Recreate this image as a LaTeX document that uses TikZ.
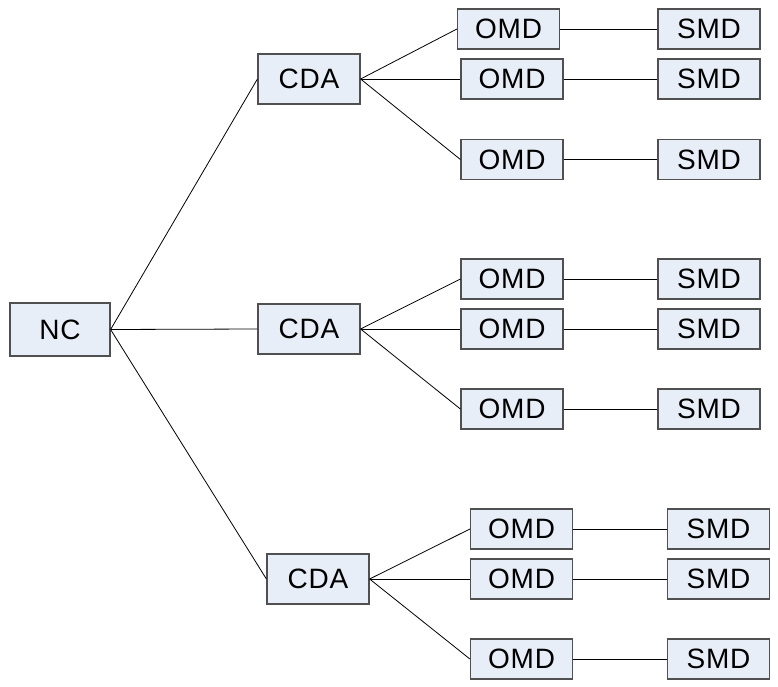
\documentclass[tikz,border=0pt]{standalone}
\usepackage{fontspec}
\setmainfont{Liberation Sans}[LetterSpace=3]
\definecolor{boxfill}{HTML}{E8EEF7}
\definecolor{boxline}{HTML}{505050}
\begin{document}
\begin{tikzpicture}[x=1pt,y=-1pt,
  blk/.style={draw=boxline,line width=1.2pt,fill=boxfill,minimum width=102pt,minimum height=40pt,inner sep=0pt,font=\fontsize{28}{30}\selectfont},
  big/.style={blk,minimum height=50pt},
  link/.style={line width=0.8pt,black}]
\useasboundingbox (0,0) rectangle (778,687);
\node[big,minimum width=100pt,minimum height=53pt] (nc) at (60,329.5) {NC};
\node[big] (c1) at (309,79) {CDA};
\node[big] (c2) at (309,329) {CDA};
\node[big] (c3) at (318,579) {CDA};
% group 1
\node[blk] (o11) at (508.5,29) {OMD};
\node[blk] (o12) at (512,79) {OMD};
\node[blk] (o13) at (512,159.5) {OMD};
\node[blk] (s11) at (709,29) {SMD};
\node[blk] (s12) at (709,79) {SMD};
\node[blk] (s13) at (709,159.5) {SMD};
% group 2
\node[blk] (o21) at (512,279) {OMD};
\node[blk] (o22) at (512,329) {OMD};
\node[blk] (o23) at (512,409) {OMD};
\node[blk] (s21) at (709,279) {SMD};
\node[blk] (s22) at (709,329) {SMD};
\node[blk] (s23) at (709,409) {SMD};
% group 3
\node[blk] (o31) at (521.5,529) {OMD};
\node[blk] (o32) at (521.5,579) {OMD};
\node[blk] (o33) at (521.5,659) {OMD};
\node[blk] (s31) at (718.5,529) {SMD};
\node[blk] (s32) at (718.5,579) {SMD};
\node[blk] (s33) at (718.5,659) {SMD};
% links
\foreach \c in {c1,c2,c3} \draw[link] (nc.east) -- (\c.west);
\foreach \g in {1,2,3} {
  \foreach \r in {1,2,3} {
    \draw[link] (c\g.east) -- (o\g\r.west);
    \draw[link] (o\g\r.east) -- (s\g\r.west);
  }
}
\end{tikzpicture}
\end{document}
